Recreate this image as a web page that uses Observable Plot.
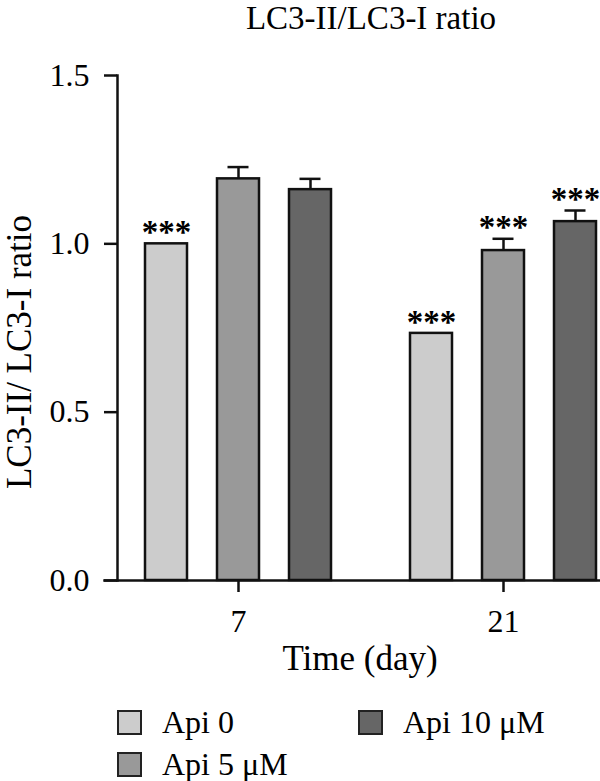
<!DOCTYPE html>
<html><head><meta charset="utf-8">
<script src="https://cdn.jsdelivr.net/npm/d3@7"></script>
<script src="https://cdn.jsdelivr.net/npm/@observablehq/plot@0.6"></script>
<style>
html,body{margin:0;padding:0;background:#fff;overflow:hidden;width:600px;height:781px;}
body{font-family:"Liberation Serif",serif;color:#000;}
#title{height:40px;margin-left:142px;width:458px;text-align:center;font-size:33px;line-height:36px;white-space:nowrap;}
#chart svg{display:block;max-width:none;}
#legend{position:relative;height:91px;}
.item{position:absolute;display:flex;align-items:center;font-size:32px;line-height:30px;white-space:nowrap;}
.sw{width:21px;height:21px;border:2px solid #222;margin-right:20px;box-sizing:content-box;}
</style></head>
<body>
<div id="title">LC3-II/LC3-I ratio</div>
<div id="chart"></div>
<div id="legend"></div>
<script>
const days = ["7", "21"];
const groups = ["Api 0", "Api 5 μM", "Api 10 μM"];
const colors = ["#cccccc", "#999999", "#666666"];
const mean7 = [1.0, 1.193, 1.161];
const err7 = [0, 0.035, 0.032];
const sig7 = ["***", "", ""];
const mean21 = [0.734, 0.980, 1.066];
const err21 = [0, 0.035, 0.033];
const sig21 = ["***", "***", "***"];
const yTicks = [0, 0.5, 1.0, 1.5];
const yLabel = "LC3-II/ LC3-I ratio";
const xLabel = "Time (day)";

const data = [];
groups.forEach((g, i) => {
  data.push({day: days[0], group: g, mean: mean7[i], err: err7[i], sig: sig7[i]});
  data.push({day: days[1], group: g, mean: mean21[i], err: err21[i], sig: sig21[i]});
});
const withErr = data.filter(d => d.err > 0);

const ink = "#111";
const plot = Plot.plot({
  width: 600, height: 650,
  marginLeft: 117, marginRight: -24.5, marginTop: 35, marginBottom: 110,
  style: {fontFamily: "Liberation Serif", fontSize: "32px", background: "transparent", color: "#000"},
  fx: {domain: days, paddingInner: 0.0885, paddingOuter: 0},
  x: {domain: groups, paddingInner: 0.417, paddingOuter: 0.389, axis: null},
  y: {domain: [0, 1.5]},
  color: {domain: groups, range: colors},
  marks: [
    Plot.barY(data, {fx: "day", x: "group", y: "mean", fill: "group", stroke: ink, strokeWidth: 2.5}),
    Plot.ruleX(withErr, {fx: "day", x: "group", y1: "mean", y2: d => d.mean + d.err, stroke: ink, strokeWidth: 2.5}),
    Plot.tickY(withErr, {fx: "day", x: "group", y: d => d.mean + d.err, stroke: ink, strokeWidth: 2.5, insetLeft: 10.5, insetRight: 10.5}),
    Plot.text(data, {fx: "day", x: "group", y: d => d.mean + d.err, text: "sig", dy: -11, fontSize: 33, fontWeight: "bold", fill: "#000"}),
    Plot.frame({anchor: "bottom", facet: "super", stroke: ink, strokeWidth: 2.5, insetLeft: -13}),
    Plot.frame({anchor: "left", facetAnchor: "left", stroke: ink, strokeWidth: 2.5}),
    Plot.axisY({ticks: yTicks, tickFormat: d3.format(".1f"), tickSize: 13, tickPadding: 15, strokeWidth: 2.5, stroke: ink, label: null}),
    Plot.text([yLabel], {facetAnchor: "left", frameAnchor: "left", rotate: -90, dx: -98, dy: 24, fontSize: 35, fill: "#000", textAnchor: "middle"}),
    Plot.axisFx({anchor: "bottom", tickSize: 12, tickPadding: 17, strokeWidth: 2.5, stroke: ink, label: null}),
    Plot.text([xLabel], {facet: "super", frameAnchor: "bottom", dx: -11, dy: 89, fontSize: 35, fill: "#000", textAnchor: "middle"})
  ]
});
document.getElementById("chart").appendChild(plot);

const legend = document.getElementById("legend");
const pos = [[117, 17], [117, 59], [358, 17]];
groups.forEach((g, i) => {
  const it = document.createElement("div");
  it.className = "item";
  it.style.left = pos[i][0] + "px";
  it.style.top = pos[i][1] + "px";
  const sw = document.createElement("div");
  sw.className = "sw";
  sw.style.background = colors[i];
  const tx = document.createElement("span");
  tx.textContent = g;
  it.appendChild(sw); it.appendChild(tx);
  legend.appendChild(it);
});
</script>
</body></html>
